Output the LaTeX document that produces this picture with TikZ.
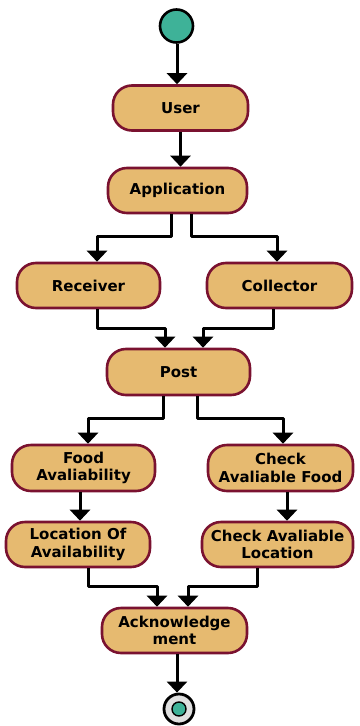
\documentclass[tikz,border=0pt]{standalone}
\usepackage{fontspec}
\setmainfont{DejaVu Sans}
\usetikzlibrary{arrows.meta}

\definecolor{boxfill}{RGB}{230,186,112}
\definecolor{boxline}{RGB}{122,18,48}
\definecolor{startfill}{RGB}{62,178,152}

\begin{document}
\begin{tikzpicture}[
        x = 1pt,
        y = -1pt,
        line join=round,
        activity/.style = {draw=boxline, fill=boxfill, line width=2.6pt, rounded corners=19pt,
            minimum height=45pt, inner sep=0pt, align=center,
            font=\fontsize{15}{17.5}\selectfont\bfseries, text=black},
        flow/.style = {line width=3pt, -{Triangle[width=20pt,length=11pt]}}
    ]
        \useasboundingbox (0, 0) rectangle (359, 726);

        \node[circle, draw=black, fill=startfill, line width=2.6pt, minimum size=33pt, inner sep=0pt] (start) at (176.5, 26) {};

        \node[activity, minimum width=135pt] (user) at (180.5, 108) {User};
        \node[activity, minimum width=139pt] (app) at (177.5, 190.5) {Application};
        \node[activity, minimum width=143pt] (receiver) at (88.5, 285.5) {Receiver};
        \node[activity, minimum width=145pt] (collector) at (279.5, 285.5) {Collector};
        \node[activity, minimum width=143pt, minimum height=46pt] (post) at (178.5, 372) {Post};
        \node[activity, minimum width=143pt, minimum height=46pt] (food) at (83.5, 468) {Food\\Avaliability};
        \node[activity, minimum width=145pt, minimum height=46pt] (checkfood) at (280.5, 468) {Check\\Avaliable Food};
        \node[activity, minimum width=144pt] (location) at (78, 544.5) {Location Of\\Availability};
        \node[activity, minimum width=151pt] (checkloc) at (277.5, 544.5) {Check Avaliable\\Location};
        \node[activity, minimum width=145pt] (ack) at (174.5, 630.5) {Acknowledge\\ment};

        \node[circle, draw=black, fill=black!12, line width=2.8pt, minimum size=30pt, inner sep=0pt] (end) at (179, 709) {};
        \node[circle, draw=black, fill=startfill, line width=1.4pt, minimum size=14pt, inner sep=0pt] (endcore) at (end) {};

        \draw[flow] ([xshift=0.5pt]start.south) -- ([xshift=0.5pt]start.south |- user.north);
        \draw[flow] (user.south) -- (user.south |- app.north);

        \draw[flow] ([xshift=-6pt]app.south) -- ++(0, 22) -| ([xshift=8.5pt]receiver.north);
        \draw[flow] ([xshift=14pt]app.south) -- ++(0, 22) -| ([xshift=-2.5pt]collector.north);

        \draw[flow] ([xshift=8.5pt]receiver.south) -- ++(0, 19) -| ([xshift=-13.5pt]post.north);
        \draw[flow] ([xshift=-6.5pt]collector.south) -- ++(0, 19) -| ([xshift=24.5pt]post.north);

        \draw[flow] ([xshift=-15.5pt]post.south) -- ++(0, 22) -| ([xshift=4.5pt]food.north);
        \draw[flow] ([xshift=18.5pt]post.south) -- ++(0, 22) -| ([xshift=2.5pt]checkfood.north);

        \draw[flow] ([xshift=-3.5pt]food.south) -- ([xshift=-3.5pt]food.south |- location.north);
        \draw[flow] ([xshift=6.5pt]checkfood.south) -- ([xshift=6.5pt]checkfood.south |- checkloc.north);

        \draw[flow] ([xshift=10pt]location.south) -- ++(0, 18) -| ([xshift=-17.5pt]ack.north);
        \draw[flow] ([xshift=-20.5pt]checkloc.south) -- ++(0, 18) -| ([xshift=13.5pt]ack.north);

        \draw[flow] ([xshift=2.5pt]ack.south) -- ([xshift=2.5pt]ack.south |- end.north);

    \end{tikzpicture}
\end{document}
